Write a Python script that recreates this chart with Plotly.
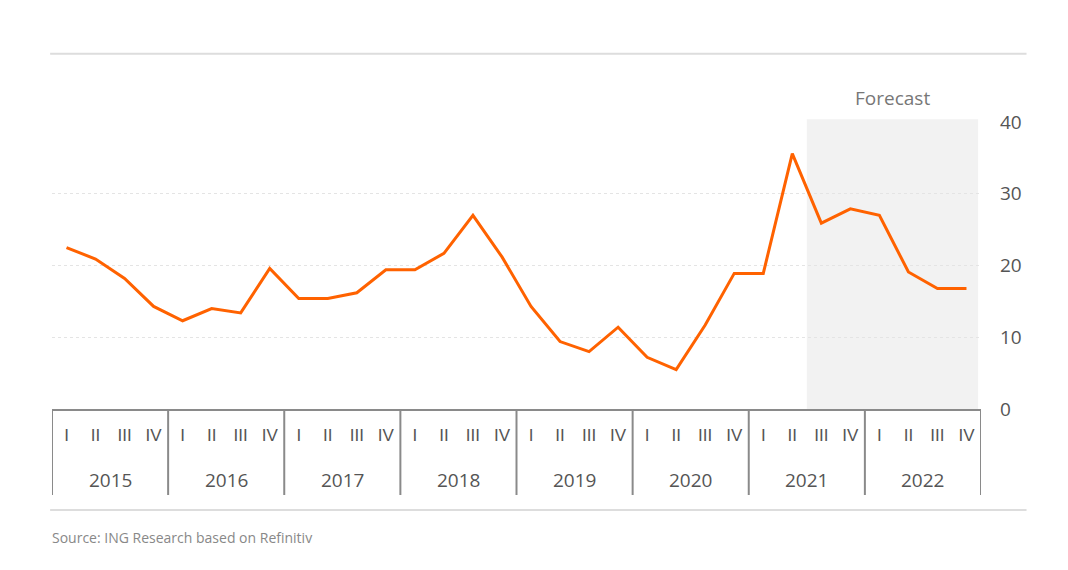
import plotly.graph_objects as go

# ---- data ----
years = ["2015", "2016", "2017", "2018", "2019", "2020", "2021", "2022"]
quarter_labels = ["I", "II", "III", "IV"]
values = [
    22.5, 20.9, 18.2, 14.3,   # 2015
    12.3, 14.0, 13.4, 19.6,   # 2016
    15.4, 15.4, 16.2, 19.4,   # 2017
    19.4, 21.7, 27.0, 21.2,   # 2018
    14.3, 9.4, 8.0, 11.4,     # 2019
    7.2, 5.5, 11.7, 18.9,     # 2020
    18.9, 35.6, 25.9, 27.9,   # 2021
    27.0, 19.1, 16.8, 16.8,   # 2022
]
forecast_start = 26  # index of first forecast quarter (2021 III)
y_ticks = [0, 10, 20, 30, 40]

n_q = len(quarter_labels)
x_idx = list(range(len(values)))
tick_text = [quarter_labels[i % n_q] for i in x_idx]

ORANGE = "#FF6200"
AXIS_GREY = "#8a8a8a"
TEXT = "#555555"
FONT = "Open Sans"

fig = go.Figure()
fig.add_trace(go.Scatter(
    x=x_idx, y=values, mode="lines",
    line=dict(color=ORANGE, width=3),
    hoverinfo="skip", showlegend=False,
))

shapes = []
# forecast shading
shapes.append(dict(
    type="rect", xref="x", yref="paper",
    x0=forecast_start - 0.5, x1=len(values) - 1 + 0.4,
    y0=0, y1=1.01,
    fillcolor="#f2f2f2", line=dict(width=0), layer="below",
))
# year dividers below the axis
for k in range(len(years) + 1):
    shapes.append(dict(
        type="line", xref="x", yref="paper",
        ysizemode="pixel", yanchor=0,
        x0=k * n_q - 0.5, x1=k * n_q - 0.5, y0=0, y1=-86,
        line=dict(color=AXIS_GREY, width=2),
    ))
# top and bottom frame rules
shapes.append(dict(type="line", xref="paper", yref="paper",
                   x0=-0.002, x1=1.049, y0=1.238, y1=1.238,
                   line=dict(color="#dddddd", width=2)))
shapes.append(dict(type="line", xref="paper", yref="paper",
                   x0=-0.002, x1=1.049, y0=-0.352, y1=-0.352,
                   line=dict(color="#dddddd", width=2)))

annotations = []
for k, yr in enumerate(years):
    annotations.append(dict(
        x=k * n_q + (n_q - 1) / 2, y=0, xref="x", yref="paper",
        yshift=-71, text=yr, showarrow=False,
        xanchor="center", yanchor="middle",
        font=dict(family=FONT, size=19, color=TEXT),
    ))
annotations.append(dict(
    x=(forecast_start - 0.5 + len(values) - 1 + 0.4) / 2, y=1.083,
    xref="x", yref="paper", text="Forecast", showarrow=False,
    xanchor="center", yanchor="middle",
    font=dict(family=FONT, size=19, color="#777777"),
))
annotations.append(dict(
    x=-0.002, y=-0.446, xref="paper", yref="paper",
    text="Source: ING Research based on Refinitiv", showarrow=False,
    xanchor="left", yanchor="middle",
    font=dict(family=FONT, size=14, color="#888888"),
))

fig.update_layout(
    width=1068, height=570,
    margin=dict(l=52, r=86.5, t=121.5, b=160.5, autoexpand=False),
    paper_bgcolor="white", plot_bgcolor="white",
    shapes=shapes, annotations=annotations,
    showlegend=False,
    xaxis=dict(
        range=[-0.5, len(values) - 0.5],
        tickmode="array", tickvals=x_idx, ticktext=tick_text,
        ticks="", showgrid=False, zeroline=False,
        showline=True, linecolor=AXIS_GREY, linewidth=2,
        tickfont=dict(family="Liberation Sans Narrow, Liberation Sans", size=17, color=TEXT),
        ticklabelstandoff=10,
        fixedrange=True,
    ),
    yaxis=dict(
        range=[y_ticks[0], y_ticks[-1]], side="right",
        tickmode="array", tickvals=y_ticks,
        showgrid=True, gridcolor="#e4e4e4", griddash="dot", gridwidth=1,
        zeroline=False, showline=False, ticks="",
        tickfont=dict(family=FONT, size=19, color=TEXT),
        ticklabelstandoff=18,
        fixedrange=True,
    ),
)

fig.write_html("out.html")
